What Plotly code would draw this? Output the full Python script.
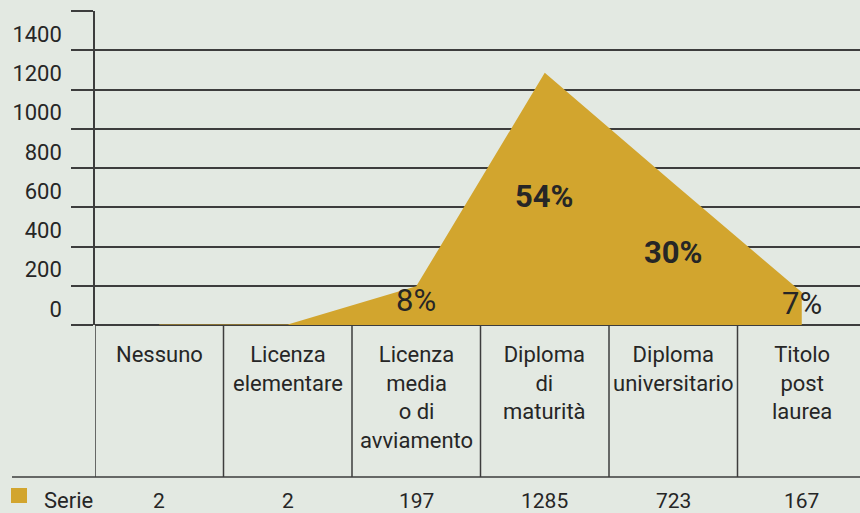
"""Area chart: titolo di studio (Serie) with table of values below."""

import plotly.graph_objects as go

categories = [
    "Nessuno",
    "Licenza<br>elementare",
    "Licenza<br>media<br>o di<br>avviamento",
    "Diploma<br>di<br>maturità",
    "Diploma<br>universitario",
    "Titolo<br>post<br>laurea",
]
values = [2, 2, 197, 1285, 723, 167]
series_name = "Serie"
tick_values = [0, 200, 400, 600, 800, 1000, 1200, 1400, 1600]
tick_labels = ["0", "200", "400", "600", "800", "1000", "1200", "1400", ""]

BG = "#e3e9e2"
GOLD = "#d2a52e"
LINE = "#3d3d3d"
TEXT = "#262626"
FONT = "Roboto, 'Open Sans', sans-serif"

total = sum(values)
percents = [round(v / total * 100) for v in values]
x_pos = list(range(len(values)))

fig = go.Figure()

fig.add_trace(
    go.Scatter(
        x=x_pos,
        y=values,
        mode="lines",
        fill="tozeroy",
        fillcolor=GOLD,
        line=dict(width=0, color=GOLD),
        name=series_name,
        showlegend=False,
        hoverinfo="x+y",
    )
)

# percentage labels inside the area (big shares in bold)
for i, (v, p) in enumerate(zip(values, percents)):
    if p < 5:
        continue
    big = p >= 10
    fig.add_annotation(
        x=i,
        y=v / 2,
        text=f"<b>{p}%</b>" if big else f"{p}%",
        showarrow=False,
        font=dict(size=31, color=TEXT, family=FONT),
        yshift=2 if big else 5,
    )

# table under the chart
table_h = 152 / 314  # table height in paper units (plot height 314 px)
for i in range(len(categories)):
    fig.add_shape(
        type="line",
        xref="x",
        yref="paper",
        x0=i - 0.5,
        x1=i - 0.5,
        y0=-table_h,
        y1=0,
        line=dict(color=LINE, width=1.5),
        layer="above",
    )

fig.add_shape(
    type="line",
    xref="paper",
    yref="paper",
    x0=-83 / 765,
    x1=1.01,
    y0=-table_h,
    y1=-table_h,
    line=dict(color=LINE, width=1.5),
)

for i, cat in enumerate(categories):
    fig.add_annotation(
        x=i,
        y=0,
        xref="x",
        yref="paper",
        text=cat,
        showarrow=False,
        yanchor="top",
        yshift=-15,
        font=dict(size=22, color=TEXT, family=FONT),
    )
    fig.add_annotation(
        x=i,
        y=-table_h,
        xref="x",
        yref="paper",
        text=str(values[i]),
        showarrow=False,
        yanchor="middle",
        yshift=-24,
        font=dict(size=21, color=TEXT, family=FONT),
    )

# legend row
fig.add_shape(
    type="rect",
    xref="paper",
    yref="paper",
    x0=-84 / 765,
    x1=-68 / 765,
    y0=-table_h - 11 / 314,
    y1=-table_h - 26 / 314,
    fillcolor=GOLD,
    line=dict(width=0),
)
fig.add_annotation(
    x=-53 / 765,
    y=-table_h,
    xref="paper",
    yref="paper",
    text=series_name,
    showarrow=False,
    xanchor="left",
    yanchor="middle",
    yshift=-24,
    font=dict(size=22, color=TEXT, family=FONT),
)

fig.update_layout(
    width=860,
    height=513,
    autosize=False,
    margin=dict(l=95, r=0, t=11, b=188),
    paper_bgcolor=BG,
    plot_bgcolor=BG,
    showlegend=False,
    xaxis=dict(
        range=[-0.5, -0.5 + 765 / 128.5],
        showgrid=False,
        zeroline=False,
        showticklabels=False,
        ticks="",
        fixedrange=True,
    ),
    yaxis=dict(
        range=[0, 1600],
        tickvals=tick_values,
        ticktext=tick_labels,
        ticks="outside",
        ticklen=22,
        tickwidth=1.5,
        tickcolor=LINE,
        showgrid=True,
        gridcolor=LINE,
        gridwidth=1.5,
        zeroline=True,
        zerolinecolor=LINE,
        zerolinewidth=1.5,
        showline=True,
        linecolor=LINE,
        linewidth=1.5,
        ticklabelshift=-16,
        ticklabelstandoff=5,
        tickfont=dict(size=22, color=TEXT, family=FONT),
        fixedrange=True,
    ),
)

# drop the default page margin so the chart fills the window
fig.write_html(
    "out.html",
    config={"displayModeBar": False},
    post_script="document.body.style.margin = '0';",
)
